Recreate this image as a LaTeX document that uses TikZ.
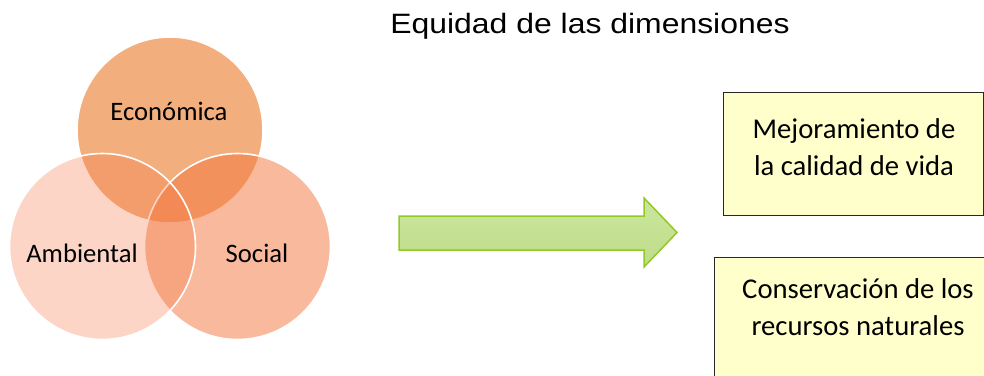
\documentclass[tikz,border=0pt]{standalone}
\usepackage{fontspec}
\setmainfont{Carlito}
\newfontfamily\titlefont{Liberation Sans}
\usepackage{xcolor}
\definecolor{ecofill}{RGB}{235,125,45}
\definecolor{socfill}{RGB}{242,118,60}
\definecolor{ambfill}{RGB}{245,118,70}
\definecolor{arrowtop}{RGB}{203,230,158}
\definecolor{arrowbot}{RGB}{190,221,136}
\definecolor{arrowline}{RGB}{146,200,40}
\definecolor{boxfill}{RGB}{255,255,204}
\definecolor{boxline}{RGB}{40,40,40}
\usetikzlibrary{positioning}
\newcommand{\px}{0.75pt}
\newcommand{\radiusdim}{93}
\tikzset{
    dim/.style={circle, draw=white, line width=1.6*\px, minimum size=2*\radiusdim*\px, inner sep=0pt},
    dimlabel/.style={anchor=base, font=\fontsize{20pt}{24pt}\selectfont},
    bigarrow/.style={draw=arrowline, line width=1.5*\px, top color=arrowtop, bottom color=arrowbot, line join=miter},
    resultbox/.style={draw=boxline, fill=boxfill, line width=1.3*\px, anchor=north west, inner sep=0pt},
    resulttext/.style={align=center, font=\fontsize{21.5pt}{28.2pt}\selectfont},
    titletext/.style={anchor=base, xscale=1.14, font=\titlefont\fontsize{21pt}{25pt}\selectfont}
}
\begin{document}
\begin{tikzpicture}[x=\px, y=-\px]
    \useasboundingbox (0,0) rectangle (984,375);
    \clip (0,0) rectangle (984,375);

    \node[titletext] (title) at (590,33) {Equidad de las dimensiones};

    \node[dim, fill=ecofill, fill opacity=0.62] (circ-eco) at (170,130) {};
    \node[dim, fill=socfill, fill opacity=0.51] (circ-soc) at (237.5,246.5) {};
    \node[dim, fill=ambfill, fill opacity=0.31] (circ-amb) at (102.5,246.5) {};

    \node[dimlabel] (lbl-eco) at (169,120) {Económica};
    \node[dimlabel] (lbl-amb) at (82,262) {Ambiental};
    \node[dimlabel] (lbl-soc) at (257,262) {Social};

    \draw[bigarrow] (399,216) -- (644,216) -- (644,198) -- (677,232.5)
        -- (644,267) -- (644,250) -- (399,250) -- cycle;

    \node[resultbox, minimum width=260*\px, minimum height=123*\px] (box-vida) at (723,92) {};
    \node[resulttext] (txt-vida) at (854,147) {Mejoramiento de\\la calidad de vida};

    \node[resultbox, minimum width=290*\px, minimum height=140*\px] (box-recursos) at (714,257) {};
    \node[resulttext] (txt-recursos) at (858,307) {Conservación de los\\recursos naturales};
\end{tikzpicture}
\end{document}
